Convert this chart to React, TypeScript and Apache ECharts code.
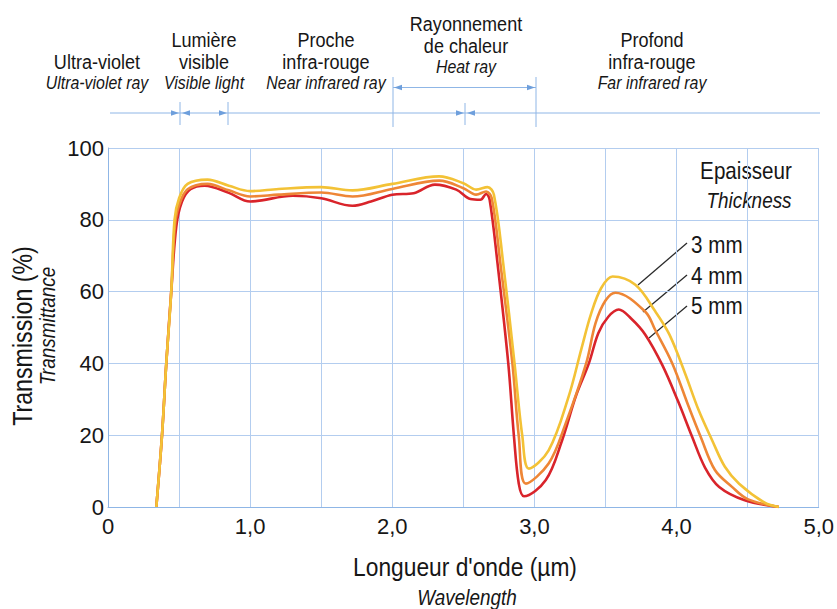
import React, { useEffect, useRef } from "react";
import * as echarts from "echarts";

// Wavelength (µm) / transmission (%) for each thickness
const x3mm = [0.34, 0.38, 0.41, 0.445, 0.468, 0.5, 0.56, 0.7, 0.85, 1.0, 1.2, 1.5, 1.72, 2.0, 2.33, 2.5, 2.59, 2.67, 2.715, 2.78, 2.86, 2.915, 2.961, 3.1, 3.24, 3.33, 3.4, 3.47, 3.55, 3.71, 3.85, 3.95, 4.06, 4.155, 4.25, 4.34, 4.44, 4.62, 4.72];
const y3mm = [0, 20, 40, 60, 80, 86, 90, 91.2, 89.5, 88, 88.6, 89.1, 88.2, 90, 92.1, 90.2, 88.4, 89.1, 87, 68, 40, 19.7, 10.7, 15.8, 30.7, 44, 54, 61, 64.2, 61.9, 54.5, 48, 37.2, 27, 18.6, 11.2, 6.5, 1.2, 0];

const x4mm = [0.34, 0.38, 0.41, 0.445, 0.47, 0.5, 0.56, 0.7, 0.85, 1.0, 1.2, 1.5, 1.72, 2.0, 2.33, 2.5, 2.59, 2.66, 2.7, 2.76, 2.845, 2.89, 2.94, 3.1, 3.22, 3.364, 3.43, 3.5, 3.57, 3.78, 3.85, 3.97, 4.085, 4.17, 4.27, 4.39, 4.5, 4.72];
const y4mm = [0, 20, 40, 60, 78, 84, 88.5, 90, 88.2, 86.5, 87, 87.6, 86.5, 88.6, 90.9, 88.8, 87, 87.9, 86, 68, 40, 19.7, 6.5, 12.1, 23.3, 40, 51.2, 57.5, 59.7, 54.4, 49.3, 40, 28, 19.5, 10.3, 5.6, 2.2, 0];

const x5mm = [0.34, 0.38, 0.41, 0.445, 0.48, 0.52, 0.58, 0.68, 0.85, 1.0, 1.3, 1.5, 1.72, 1.85, 2.0, 2.15, 2.3, 2.45, 2.55, 2.62, 2.66, 2.685, 2.74, 2.816, 2.856, 2.89, 2.926, 3.08, 3.195, 3.29, 3.383, 3.45, 3.52, 3.593, 3.68, 3.78, 3.9, 4.01, 4.11, 4.2, 4.3, 4.48, 4.72];
const y5mm = [0, 20, 40, 60, 78, 85, 88.5, 89.5, 87.5, 85.1, 86.7, 86, 83.9, 85.1, 87, 87.4, 89.8, 88.4, 85.8, 85.6, 87.2, 85.6, 68, 40, 19.7, 6.5, 3, 7.5, 18.6, 30.7, 40, 48.5, 53, 55, 52.5, 48, 39.5, 29.5, 19.5, 11, 5.6, 1.9, 0];

const seriesNames = ["5 mm", "4 mm", "3 mm"];
const xTickLabels = ["0", "1,0", "2,0", "3,0", "4,0", "5,0"];

const FONT = '"Liberation Sans", Arial, sans-serif';
const BLUE = "#8fb6e6";
const GRID = "#b3cdef";
const SX = 0.86; // condensed look

function pairs(xs: number[], ys: number[]) {
  return xs.map((x, i) => [x, ys[i]]);
}

function txt(text: string, x: number, y: number, size: number, italic = false, opts: any = {}) {
  const align = opts.align || "center";
  return {
    type: "text",
    x,
    y,
    scaleX: SX,
    rotation: opts.rotation || 0,
    style: {
      text,
      fill: "#161616",
      font: `${italic ? "italic " : ""}${size}px ${FONT}`,
      textAlign: align,
      textVerticalAlign: "middle",
      align,
      verticalAlign: "middle",
    },
  };
}

function arrow(tipX: number, y: number, dir: 1 | -1) {
  const base = tipX - dir * 8;
  return {
    type: "polygon",
    shape: { points: [[tipX, y], [base, y - 2.8], [base, y + 2.8]] },
    style: { fill: "#6e9fdc" },
  };
}

function vline(x: number, y1: number, y2: number) {
  return { type: "line", shape: { x1: x, y1, x2: x, y2 }, style: { stroke: BLUE, lineWidth: 1 } };
}

function leader(x1: number, y1: number, x2: number, y2: number) {
  return { type: "line", shape: { x1, y1, x2, y2 }, style: { stroke: "#2a2a2a", lineWidth: 1.3 } };
}

export default function App() {
  const ref = useRef<HTMLDivElement>(null);
  useEffect(() => {
    if (!ref.current) return;
    const chart = echarts.init(ref.current, null, { renderer: "svg" });
    const colors = ["#d9242b", "#ee8636", "#f3c236"];
    const data = [pairs(x5mm, y5mm), pairs(x4mm, y4mm), pairs(x3mm, y3mm)];
    chart.setOption({
      animation: false,
      backgroundColor: "#ffffff",
      grid: { left: 108, right: 17, top: 148, bottom: 102, containLabel: false },
      xAxis: {
        type: "value",
        min: 0,
        max: 5,
        interval: 0.5,
        axisLine: { show: true, lineStyle: { color: BLUE, width: 1 } },
        axisTick: { show: false },
        splitLine: { show: true, lineStyle: { color: GRID, width: 1 } },
        axisLabel: {
          margin: 8,
          fontSize: 22,
          fontFamily: FONT,
          color: "#161616",
          formatter: (v: number) => {
            const r = Math.round(v);
            return Math.abs(v - r) < 1e-6 ? xTickLabels[r] : "";
          },
        },
      },
      yAxis: {
        type: "value",
        min: 0,
        max: 100,
        interval: 20,
        axisLine: { show: true, lineStyle: { color: BLUE, width: 1 } },
        axisTick: { show: false },
        splitLine: { show: true, lineStyle: { color: GRID, width: 1 } },
        axisLabel: { margin: 4, fontSize: 22, fontFamily: FONT, color: "#161616" },
      },
      series: data.map((d, i) => ({
        name: seriesNames[i],
        type: "line",
        data: d,
        smooth: 0.35,
        showSymbol: false,
        symbol: "none",
        lineStyle: { color: colors[i], width: 2.6 },
        z: 2 + i,
      })),
      graphic: [
        // band header texts
        txt("Ultra-violet", 97, 61, 21),
        txt("Ultra-violet ray", 97, 83, 18.5, true),
        txt("Lumière", 204, 39, 21),
        txt("visible", 204, 61, 21),
        txt("Visible light", 204, 83, 18.5, true),
        txt("Proche", 326, 39, 21),
        txt("infra-rouge", 326, 61, 21),
        txt("Near infrared ray", 326, 83, 18.5, true),
        txt("Rayonnement", 466, 23, 21),
        txt("de chaleur", 466, 45, 21),
        txt("Heat ray", 466, 67, 18.5, true),
        txt("Profond", 652, 39, 21),
        txt("infra-rouge", 652, 61, 21),
        txt("Far infrared ray", 652, 83, 18.5, true),
        // band rule lines
        { type: "line", shape: { x1: 110, y1: 113, x2: 820, y2: 113 }, style: { stroke: BLUE, lineWidth: 1 } },
        { type: "line", shape: { x1: 393, y1: 87.5, x2: 536, y2: 87.5 }, style: { stroke: BLUE, lineWidth: 1 } },
        vline(180, 102, 125),
        vline(228, 102, 125),
        vline(393, 77, 127),
        vline(465, 103, 125),
        vline(536, 77, 127),
        arrow(179, 113, 1),
        arrow(182, 113, -1),
        arrow(227, 113, 1),
        arrow(464, 113, 1),
        arrow(467, 113, -1),
        arrow(394, 87.5, -1),
        arrow(535, 87.5, 1),
        // thickness legend
        txt("Epaisseur", 746, 171, 24),
        txt("Thickness", 749, 200, 22, true),
        txt("3 mm", 691, 245, 24, false, { align: "left" }),
        txt("4 mm", 691, 276, 24, false, { align: "left" }),
        txt("5 mm", 691, 306, 24, false, { align: "left" }),
        leader(687, 243, 638, 285),
        leader(687, 275, 643, 312),
        leader(687, 306, 649, 338),
        // axis titles
        txt("Longueur d'onde (µm)", 465, 567, 26.5),
        txt("Wavelength", 467, 597, 22, true),
        txt("Transmission (%)", 22, 336, 27, false, { rotation: Math.PI / 2 }),
        txt("Transmittance", 47, 326, 22, true, { rotation: Math.PI / 2 }),
      ],
    });
    return () => chart.dispose();
  }, []);
  return <div ref={ref} style={{ width: 837, height: 609, position: "absolute", left: 0, top: 0 }} />;
}
